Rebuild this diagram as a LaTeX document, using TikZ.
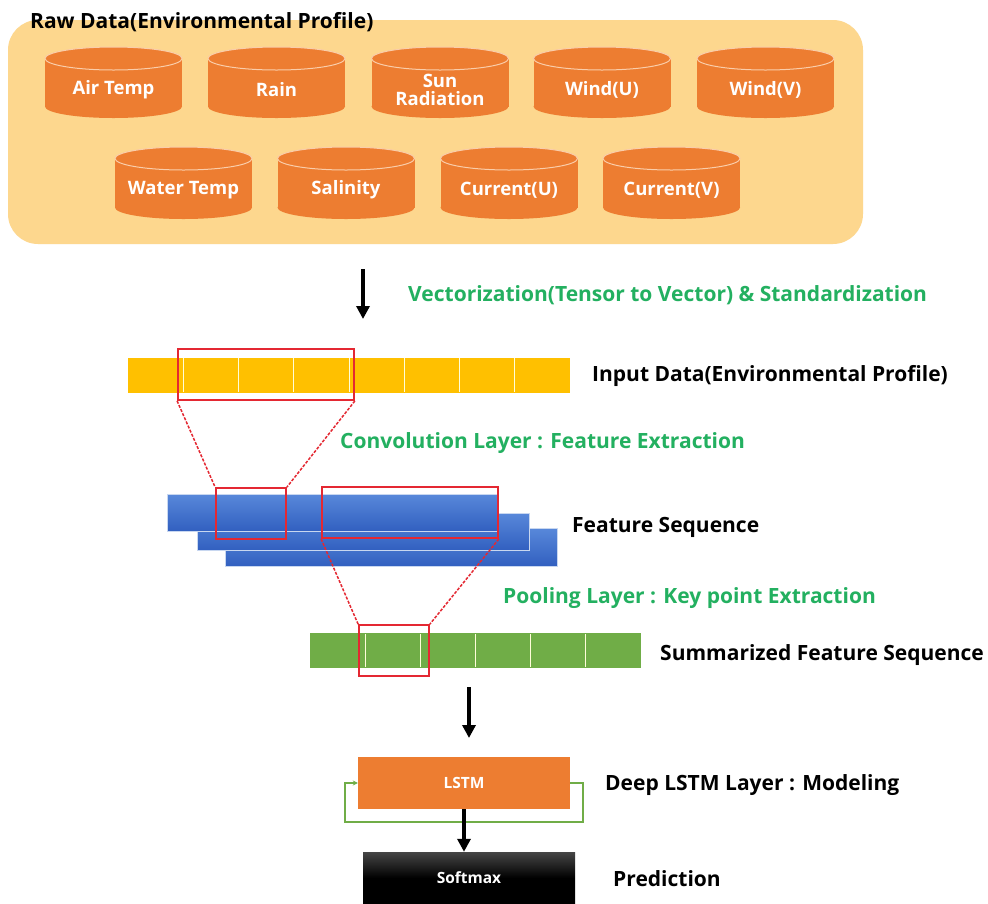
\documentclass[tikz,border=0pt]{standalone}
\usepackage{fontspec}
\setmainfont{Open Sans}
\usetikzlibrary{arrows.meta}
\definecolor{bgorange}{RGB}{253,215,142}
\definecolor{cylorange}{RGB}{237,125,49}
\definecolor{capline}{RGB}{250,205,170}
\definecolor{inyellow}{RGB}{255,192,0}
\definecolor{redbox}{RGB}{228,40,50}
\definecolor{bluetop}{RGB}{88,136,218}
\definecolor{bluebot}{RGB}{50,96,192}
\definecolor{barsgreen}{RGB}{112,173,71}
\definecolor{txtgreen}{RGB}{35,176,96}
\tikzset{
  bgbox/.style={draw=none,fill=bgorange,rounded corners=30pt,inner sep=0pt},
  cylbody/.style={fill=cylorange},
  cylcap/.style={fill=cylorange,draw=capline,line width=1pt},
  cyltext/.style={text=white,font=\bfseries\fontsize{18.5}{21}\selectfont,align=center,inner sep=0pt},
  heading/.style={anchor=west,inner sep=0pt,font=\bfseries\fontsize{21}{24}\selectfont},
  greenhead/.style={heading,text=txtgreen},
  inbarbox/.style={fill=inyellow,draw=none,inner sep=0pt},
  greenbarbox/.style={fill=barsgreen,draw=none,inner sep=0pt},
  bluebar/.style={top color=bluetop,bottom color=bluebot,draw={rgb,255:red,200;green,215;blue,240},line width=0.8pt,inner sep=0pt},
  redrect/.style={draw=redbox,line width=1.8pt,fill=none,inner sep=0pt},
  reddash/.style={draw=redbox,line width=1.5pt,dash pattern=on 3pt off 1.5pt},
  divider/.style={draw=white!85!yellow,line width=0.8pt},
  bigarrow/.style={line width=3.4pt,-{Triangle[length=13pt,width=13pt]}},
  loopline/.style={draw=barsgreen,line width=1.3pt,-{Stealth[length=5pt,width=5pt]}},
  lstmbox/.style={fill=cylorange,inner sep=0pt,text=white,font=\bfseries\fontsize{15.5}{18}\selectfont},
  softbox/.style={top color={rgb,255:red,70;green,70;blue,70},bottom color=black,middle color=black,inner sep=0pt,text=white,font=\bfseries\fontsize{15.5}{18}\selectfont}
}
\newcommand\dbcyl[5]{%
  \fill[cylbody] (#2-68.5,#3) rectangle (#2+68.5,#4);
  \fill[cylbody] (#2,#4) ellipse [x radius=68.5, y radius=11.5];
  \path[cylcap] (#2,#3) ellipse [x radius=68.5, y radius=11.5];
  \node[cyltext] (#1) at (#2,{(#3+#4)/2+7}) {#5};
}
\begin{document}
\begin{tikzpicture}[x=1pt,y=-1pt]
\useasboundingbox (0,0) rectangle (988,903);
\fill[white] (0,0) rectangle (988,903);

% raw data panel
\node[bgbox,minimum width=855pt,minimum height=224pt] (raw) at (435.5,132) {};
\node[heading] (rawtitle) at (30,22) {Raw Data(Environmental Profile)};

\dbcyl{airtemp}{113.5}{58.5}{106.5}{Air Temp}
\dbcyl{rain}{276.5}{58.5}{106.5}{Rain}
\dbcyl{sunrad}{440}{58.5}{106.5}{Sun\\[-3pt]Radiation}
\dbcyl{windu}{602}{58.5}{106.5}{Wind(U)}
\dbcyl{windv}{765.5}{58.5}{106.5}{Wind(V)}
\dbcyl{watertemp}{183.5}{158.5}{207.5}{Water Temp}
\dbcyl{salinity}{346}{158.5}{207.5}{Salinity}
\dbcyl{curu}{509}{158.5}{207.5}{Current(U)}
\dbcyl{curv}{671.5}{158.5}{207.5}{Current(V)}

% arrow 1
\coordinate (a1s) at (363,269);
\coordinate (a1e) at (363,319);
\draw[bigarrow] (a1s) -- (a1e);
\node[greenhead] (vect) at (408,295) {Vectorization(Tensor to Vector) \& Standardization};

% input bar
\node[inbarbox,minimum width=442pt,minimum height=35pt] (inbar) at (349,375) {};
\foreach \k in {1,...,7}{
  \draw[divider] ({128+55.25*\k},358) -- ({128+55.25*\k},392);
}
\node[heading] (inlabel) at (592,376) {Input Data(Environmental Profile)};
\node[redrect,minimum width=176pt,minimum height=51pt] (r1) at (266,374.5) {};

\node[greenhead] (conv) at (340,443) {Convolution Layer : Feature Extraction};

% feature sequence (blue bars)
\node[bluebar,minimum width=332pt,minimum height=38pt] (b3) at (391,547) {};
\node[bluebar,minimum width=332pt,minimum height=37pt] (b2) at (363,531.5) {};
\node[bluebar,minimum width=330pt,minimum height=37pt] (b1) at (332,512.5) {};
\node[redrect,minimum width=70pt,minimum height=51pt] (r2) at (251,513.5) {};
\node[redrect,minimum width=176pt,minimum height=51pt] (r3) at (410,512.5) {};
\node[heading] (featlabel) at (572,527) {Feature Sequence};

\draw[reddash] (r1.south west) -- (r2.north west);
\draw[reddash] (r1.south east) -- (r2.north east);

\node[greenhead] (pool) at (503,598) {Pooling Layer : Key point Extraction};

% summarized (green bar)
\node[greenbarbox,minimum width=331pt,minimum height=35pt] (gbar) at (475.5,650.5) {};
\foreach \k in {1,...,5}{
  \draw[divider] ({310+55.17*\k},634) -- ({310+55.17*\k},667);
}
\node[redrect,minimum width=70pt,minimum height=51pt] (r4) at (394,650.5) {};
\node[heading] (sumlabel) at (660,655) {Summarized Feature Sequence};

\draw[reddash] (r3.south west) -- (r4.north west);
\draw[reddash] (r3.south east) -- (r4.north east);

% arrow 2
\coordinate (a2s) at (469,687);
\coordinate (a2e) at (469,738);
\draw[bigarrow] (a2s) -- (a2e);

% LSTM
\node[lstmbox,minimum width=212pt,minimum height=52pt] (lstm) at (464,783) {LSTM};
\draw[loopline] (lstm.east) -- (583,783) -- (583,822) -- (345,822) -- (345,783) -- (lstm.west);
\node[heading] (deeplabel) at (605,785) {Deep LSTM Layer : Modeling};

% softmax
\node[softbox,minimum width=212pt,minimum height=52pt] (softmax) at (469,878) {Softmax};
\draw[bigarrow] (lstm.south) -- (lstm.south |- softmax.north);
\node[heading] (predlabel) at (613,879) {Prediction};
\end{tikzpicture}
\end{document}
